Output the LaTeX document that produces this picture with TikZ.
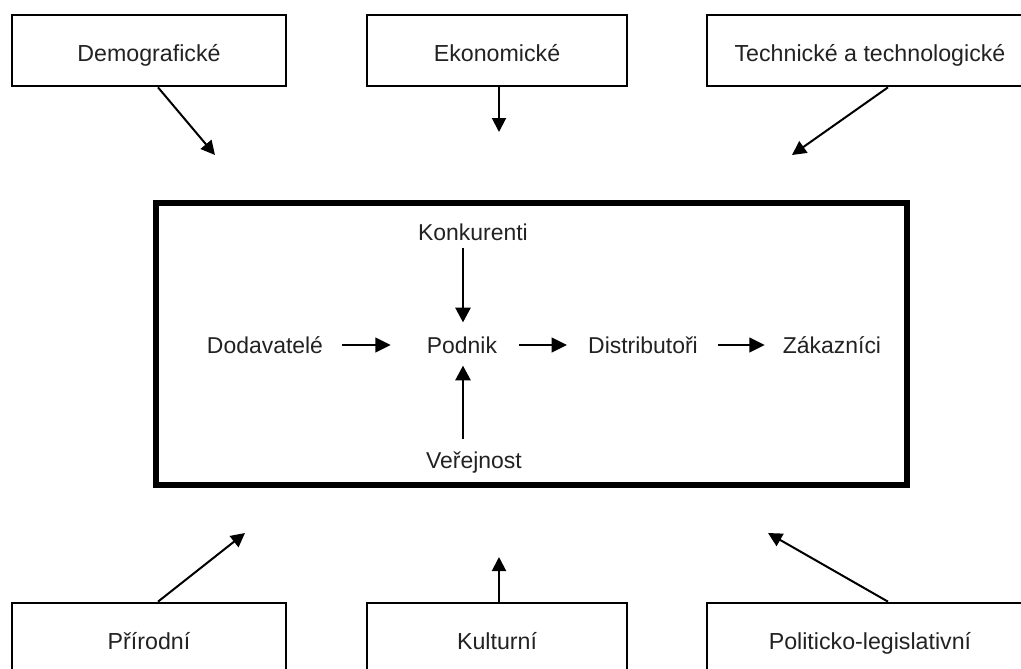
\documentclass[tikz,border=0pt]{standalone}
\usepackage{fontspec}
\setmainfont{Liberation Sans}
\usetikzlibrary{arrows.meta,calc}
\definecolor{txt}{HTML}{222222}
\tikzset{
  outerbox/.style={draw=black, line width=2pt, minimum width=#1*0.75pt, minimum height=71*0.75pt, inner sep=0pt,
    text height=16pt, text depth=0pt,
    font=\fontsize{17.4pt}{20pt}\selectfont, text=txt},
  inlbl/.style={inner sep=0pt, font=\fontsize{17.2pt}{20pt}\selectfont, text=txt},
  outarr/.style={line width=1.5pt, -{Triangle[length=10.5pt,width=10.5pt]}},
  harr/.style={line width=1.7pt, -{Triangle[length=11.5pt,width=11pt]}},
  varr/.style={line width=1.2pt, -{Triangle[length=11pt,width=11.5pt]}},
  mainbox/.style={draw=black, line width=4.8pt}
}
\begin{document}
\begin{tikzpicture}[x=0.75pt,y=-0.75pt]
\useasboundingbox (0,0) rectangle (1021,668);
\clip (0,0) rectangle (1021,668);
\fill[white] (0,0) rectangle (1021,668);

% top boxes
\node[outerbox=274] (demo) at (149,50.5) {Demografické};
\node[outerbox=260] (ekon) at (497,50.5) {Ekonomické};
\node[outerbox=326] (tech) at (870,50.5) {Technické a technologické};
% bottom boxes
\node[outerbox=274] (prir) at (149,638.5) {Přírodní};
\node[outerbox=260] (kult) at (497,638.5) {Kulturní};
\node[outerbox=326] (poli) at (870,638.5) {Politicko-legislativní};

% central box
\node[mainbox, minimum width=751*0.75pt, minimum height=282*0.75pt, inner sep=0pt] (env) at (531.5,344) {};

% free ends of outer arrows
\coordinate (tA) at (215,155);
\coordinate (tB) at (499,132);
\coordinate (tC) at (792,155);
\coordinate (bA) at (245,533);
\coordinate (bB) at (499,557);
\coordinate (bC) at (768,533);

\draw[outarr] (demo.south -| 158,0) -- (tA);
\draw[outarr] (ekon.south -| 499,0) -- (tB);
\draw[outarr] (tech.south -| 888,0) -- (tC);
\draw[outarr] (prir.north -| 158,0) -- (bA);
\draw[outarr] (kult.north -| 499,0) -- (bB);
\draw[outarr] (poli.north -| 888,0) -- (bC);

% inner labels
\node[inlbl] (kon) at (473,232) {Konkurenti};
\node[inlbl] (dod) at (265,345) {Dodavatelé};
\node[inlbl] (pod) at (462,345) {Podnik};
\node[inlbl] (dis) at (643,345) {Distributoři};
\node[inlbl] (zak) at (832,345) {Zákazníci};
\node[inlbl] (ver) at (474,463) {Veřejnost};

\draw[harr] ([xshift=19*0.75pt]dod.east |- 0,345) -- ([xshift=-36*0.75pt]pod.west |- 0,345);
\draw[harr] ([xshift=22*0.75pt]pod.east |- 0,345) -- ([xshift=-21*0.75pt]dis.west |- 0,345);
\draw[harr] ([xshift=20*0.75pt]dis.east |- 0,345) -- ([xshift=-18*0.75pt]zak.west |- 0,345);
\draw[varr] ([yshift=-7*0.75pt]kon.south -| 463,0) -- ([yshift=14*0.75pt]pod.north -| 463,0);
\draw[varr] ([yshift=13*0.75pt]ver.north -| 463,0) -- ([yshift=-12*0.75pt]pod.south -| 463,0);
\end{tikzpicture}
\end{document}
